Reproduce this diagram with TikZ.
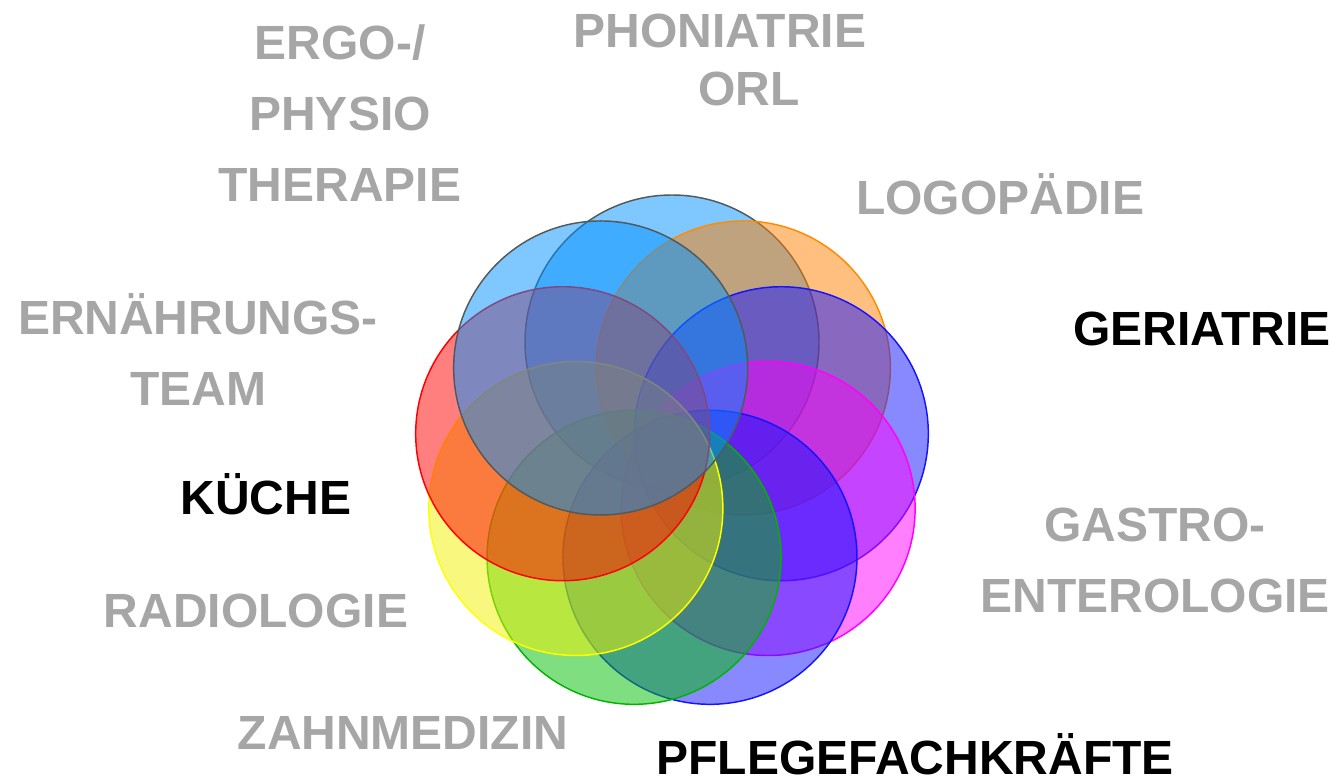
\documentclass[tikz,border=0pt]{standalone}
\usepackage{fontspec}
\setmainfont{Liberation Sans}
\usetikzlibrary{calc}

\definecolor{labelgray}{RGB}{166,166,166}
\definecolor{skyfill}{RGB}{0,145,255}
\definecolor{skyedge}{RGB}{80,90,90}
\definecolor{orangefill}{RGB}{255,128,0}
\definecolor{orangeedge}{RGB}{255,140,0}
\definecolor{bluefill}{RGB}{20,20,255}
\definecolor{blueedge}{RGB}{20,20,255}
\definecolor{magentafill}{RGB}{255,0,255}
\definecolor{greenfill}{RGB}{0,190,0}
\definecolor{greenedge}{RGB}{0,180,0}
\definecolor{yellowfill}{RGB}{242,242,0}
\definecolor{yellowedge}{RGB}{255,255,0}
\definecolor{redfill}{RGB}{255,0,0}

\begin{document}
\begin{tikzpicture}[x=0.75pt,y=-0.75pt,
  dept/.style={font=\bfseries\fontsize{36}{53}\selectfont, align=center,
    anchor=base, inner sep=0pt, text=labelgray},
  keydept/.style={dept, text=black}]

% ------------------------------------------------------------------
% Canvas: 1337 by 781 pixels, y runs downwards.
% Multi-line labels are placed by the baseline of their last line.
% ------------------------------------------------------------------
\useasboundingbox (0,0) rectangle (1337,781);

% Discs of the ring are specified as: \ringdisc{angle}{fill}{edge}
% The ring is centred at (672,453) with a radius of 111.
\newcommand{\ringdisc}[3]{%
  \filldraw[fill=#2, fill opacity=0.5, draw=#3, line width=1.1pt]
    ($(672,453)+(#1:111)$) circle[radius=110.25pt];
}

% Discs, clockwise from the top; the last one lies on top of all.
\ringdisc{-90}{skyfill}{skyedge}
\ringdisc{-50}{orangefill}{orangeedge}
\ringdisc{-10}{bluefill}{blueedge}
\ringdisc{30}{magentafill}{magentafill}
\ringdisc{70}{bluefill}{blueedge}
\ringdisc{110}{greenfill}{greenedge}
\ringdisc{150}{yellowfill}{yellowedge}
\ringdisc{190}{redfill}{redfill}
\ringdisc{230}{skyfill}{skyedge}

% Labels round the ring.
\node[dept] (ergo) at (340,201) {ERGO-/\\PHYSIO\\THERAPIE};
\node[dept] (phoniatrie) at (720,48) {PHONIATRIE};
\node[dept] (orl) at (749,106) {ORL};
\node[dept] (logopaedie) at (1000,214) {LOGOPÄDIE};
\node[keydept] (geriatrie) at (1202,345) {GERIATRIE};
\node[dept] (ernaehrung) at (198,405) {ERNÄHRUNGS-\\TEAM};
\node[keydept] (kueche) at (266,514) {KÜCHE};
\node[dept] (gastro) at (1155,612) {GASTRO-\\ENTEROLOGIE};
\node[dept] (radiologie) at (256,627) {RADIOLOGIE};
\node[dept] (zahnmedizin) at (403,749) {ZAHNMEDIZIN};
\node[keydept] (pflege) at (915,774) {PFLEGEFACHKRÄFTE};

\end{tikzpicture}
\end{document}
